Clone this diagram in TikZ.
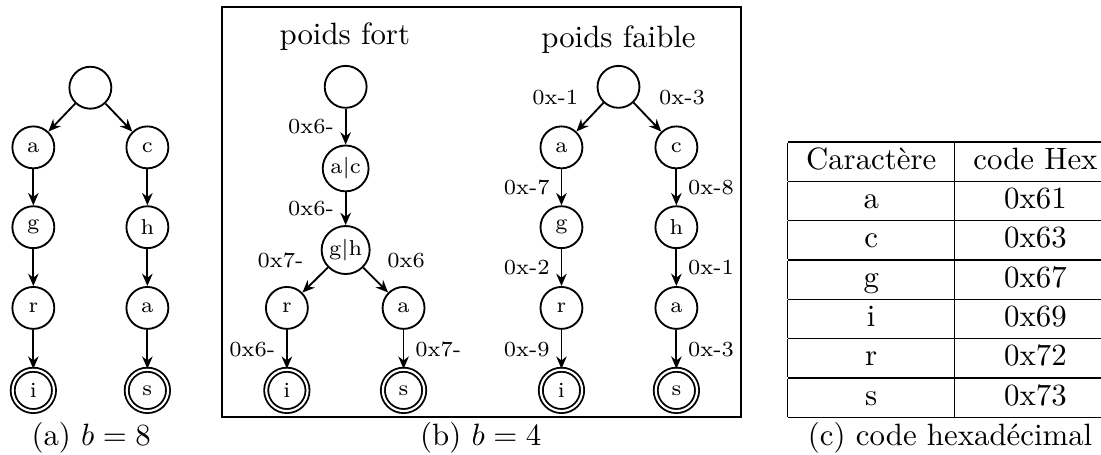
\documentclass[tikz,border=0pt]{standalone}
\usepackage{amsmath}
\usepackage{tikz}
\usetikzlibrary{arrows.meta,positioning}

\begin{document}
\begin{tikzpicture}[
  trienode/.style={circle, draw, semithick, minimum size=13.6pt,
                   inner sep=1pt, font=\scriptsize},
  final/.style={trienode, double, double distance=0.7pt, minimum size=13.4pt},
  arrow/.style={-{Stealth[length=4pt, width=3.4pt]}, semithick},
  bits/.style={font=\scriptsize, inner sep=3.5pt},
  title/.style={anchor=base},
  caption/.style={anchor=base},
]
  \useasboundingbox (0,0) rectangle (12.55,-5.18);

  % (a) trie with b = 8
  \node[trienode] (aroot) at (1.03,-1.00) {};
  \node[trienode] (aa) at (0.38,-1.68) {a};
  \node[trienode] (ag) at (0.38,-2.59) {g};
  \node[trienode] (ar) at (0.38,-3.51) {r};
  \node[final] (ai) at (0.38,-4.45) {i};
  \node[trienode] (ac) at (1.68,-1.68) {c};
  \node[trienode] (ah) at (1.68,-2.59) {h};
  \node[trienode] (aa2) at (1.68,-3.51) {a};
  \node[final] (as) at (1.68,-4.45) {s};
  \draw[arrow] (aroot) -- (aa);
  \draw[arrow] (aa) -- (ag);
  \draw[arrow] (ag) -- (ar);
  \draw[arrow] (ar) -- (ai);
  \draw[arrow] (aroot) -- (ac);
  \draw[arrow] (ac) -- (ah);
  \draw[arrow] (ah) -- (aa2);
  \draw[arrow] (aa2) -- (as);
  \node[caption] (capa) at (1.04,-5.08) {(a) $b = 8$};

  % (b) trie with b = 4, split in two halves
  \draw[semithick] (2.53,-0.08) rectangle (8.45,-4.75);

  % high nibble
  \node[title] (fort) at (3.93,-0.51) {poids fort};
  \node[trienode] (froot) at (3.94,-0.99) {};
  \node[trienode] (fac) at (3.94,-1.92) {a|c};
  \node[trienode] (fgh) at (3.94,-2.85) {g|h};
  \node[trienode] (fr) at (3.27,-3.51) {r};
  \node[trienode] (fa) at (4.60,-3.51) {a};
  \node[final] (fi) at (3.27,-4.45) {i};
  \node[final] (fs) at (4.60,-4.45) {s};
  \draw[arrow] (froot) -- node[left, bits] {0x6-} (fac);
  \draw[arrow] (fac) -- node[left, bits] {0x6-} (fgh);
  \draw[arrow] (fgh) -- node[above left, bits] {0x7-} (fr);
  \draw[arrow] (fgh) -- node[above right, bits] {0x6} (fa);
  \draw[arrow] (fr) -- node[left, bits] {0x6-} (fi);
  \draw[arrow] (fa) -- node[right, bits] {0x7-} (fs);

  % low nibble
  \node[title] (faible) at (7.05,-0.54) {poids faible};
  \node[trienode] (lroot) at (7.05,-0.99) {};
  \node[trienode] (la) at (6.40,-1.68) {a};
  \node[trienode] (lg) at (6.40,-2.59) {g};
  \node[trienode] (lr) at (6.40,-3.51) {r};
  \node[final] (li) at (6.40,-4.45) {i};
  \node[trienode] (lc) at (7.71,-1.68) {c};
  \node[trienode] (lh) at (7.71,-2.59) {h};
  \node[trienode] (la2) at (7.71,-3.51) {a};
  \node[final] (ls) at (7.71,-4.45) {s};
  \draw[arrow] (lroot) -- node[above left, bits] {0x-1} (la);
  \draw[arrow] (lroot) -- node[above right, bits] {0x-3} (lc);
  \draw[arrow] (la) -- node[left, bits] {0x-7} (lg);
  \draw[arrow] (lg) -- node[left, bits] {0x-2} (lr);
  \draw[arrow] (lr) -- node[left, bits] {0x-9} (li);
  \draw[arrow] (lc) -- node[right, bits] {0x-8} (lh);
  \draw[arrow] (lh) -- node[right, bits] {0x-1} (la2);
  \draw[arrow] (la2) -- node[right, bits] {0x-3} (ls);
  \node[caption] (capb) at (5.48,-5.08) {(b) $b = 4$};

  % (c) hex codes, right rule falls outside the picture
  \node[anchor=north west, inner sep=0pt] (hextab) at (8.97,-1.604) {%
    \renewcommand{\arraystretch}{1.03}%
    \begin{tabular}{|c|c}
      \hline
      Caractère & code Hex \\ \hline
      a & 0x61 \\ \hline
      c & 0x63 \\ \hline
      g & 0x67 \\ \hline
      i & 0x69 \\ \hline
      r & 0x72 \\ \hline
      s & 0x73 \\ \hline
    \end{tabular}};
  \node[caption] (capc) at (10.83,-5.08) {(c) code hexadécimal};

\end{tikzpicture}
\end{document}
